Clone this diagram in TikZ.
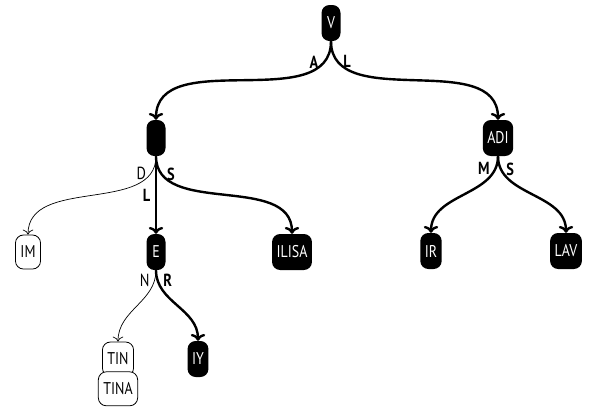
\documentclass[tikz,border=0pt]{standalone}
\usepackage{fontspec}
\setmainfont{PT Sans}[FakeStretch=0.82]
\usepackage{tikz}
\usetikzlibrary{positioning, arrows, arrows.meta}

\begin{document}
\begin{tikzpicture}[
            x=1pt, y=1pt,
            full/.style={fill=black, text=white, rounded corners=8pt, minimum height=36pt, minimum width=19pt, inner xsep=4.5pt, font=\fontsize{17}{20}\selectfont},
            leaf/.style={draw, fill=white, line width=0.8pt, rounded corners=8pt, minimum height=34pt, minimum width=19pt, inner xsep=5pt, font=\fontsize{17}{20}\selectfont},
            strong/.style={->, line width=2.4pt},
            weak/.style={-{To[scale=1.6]}, line width=0.7pt},
            lbl/.style={font=\bfseries\fontsize{17.5}{20}\selectfont, inner sep=4.5pt},
            thinlbl/.style={font=\fontsize{17.5}{20}\selectfont, inner sep=4.5pt},
        ]
            \useasboundingbox (0,0) rectangle (594,-416);

            \node[full] (v) at (331,-23) {V};
            \node[full] (va) at (156,-138) {};
            \node[full] (vladi) at (498,-138) {ADI};

            \node[leaf] (vadim) at (28,-252) {IM};
            \node[full] (vale) at (156,-252) {E};
            \node[full] (vasilisa) at (292,-252) {ILISA};
            \node[full] (vladimir) at (431,-251) {IR};
            \node[full] (vladislav) at (566,-251) {LAV};

            \node[leaf] (valentin) at (118,-359) {TIN};
            \node[leaf, below=-5pt of valentin] (valentina) {TINA};
            \node[full] (valeriy) at (198,-359) {IY};

            \draw[strong] (v.south) to[out=-90, in=90] node[lbl, pos=0.12, left] {A} (va.north);
            \draw[strong] (v.south) to[out=-90, in=90] node[lbl, pos=0.12, right] {L} (vladi.north);

            \draw[weak] (va.south) to[out=-90, in=90] node[thinlbl, pos=0.12, left] {D} (vadim.north);
            \draw[strong] (va.south) -- node[lbl, pos=0.5, left] {L} (vale.north);
            \draw[strong] (va.south) to[out=-90, in=90] node[lbl, pos=0.12, right] {S} (vasilisa.north);

            \draw[strong] (vladi.south) to[out=-90, in=90] node[lbl, pos=0.12, left] {M} (vladimir.north);
            \draw[strong] (vladi.south) to[out=-90, in=90] node[lbl, pos=0.12, right] {S} (vladislav.north);

            \draw[weak] (vale.south) to[out=-90, in=90] node[thinlbl, pos=0.12, left] {N} (valentin.north);
            \draw[strong] (vale.south) to[out=-90, in=90] node[lbl, pos=0.12, right] {R} (valeriy.north);
        \end{tikzpicture}
\end{document}
